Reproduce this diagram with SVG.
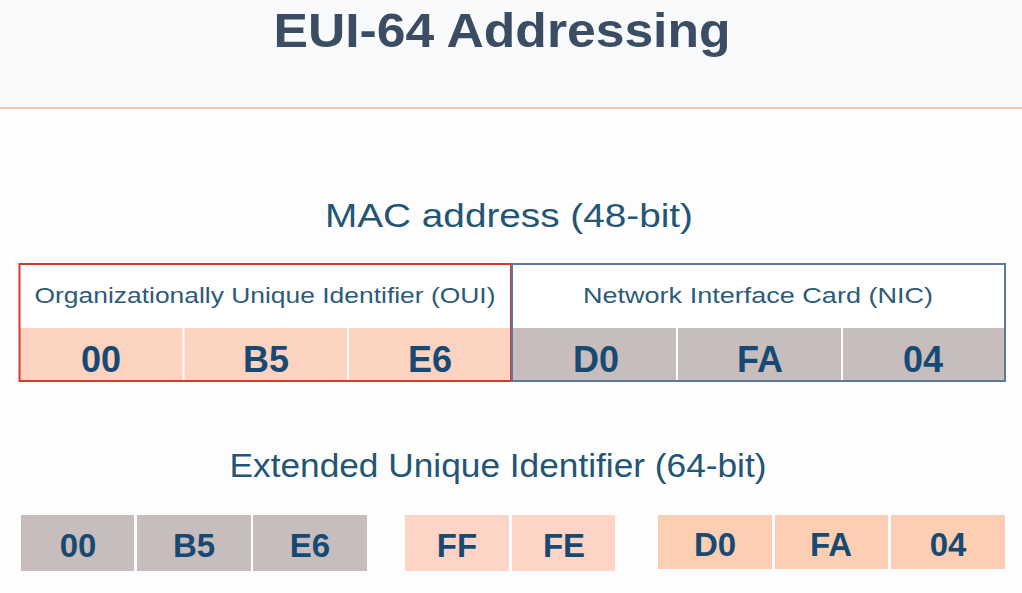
<svg xmlns="http://www.w3.org/2000/svg" width="1022" height="593" viewBox="0 0 1022 593">
  <style>
    .title { font-family: "Liberation Sans", Arial, sans-serif; font-weight: bold; font-size: 48px; fill: #3b4d63; }
    .caption { font-family: "Liberation Sans", Arial, sans-serif; font-size: 34px; fill: #235574; }
    .label { font-family: "Liberation Sans", Arial, sans-serif; font-size: 22.5px; fill: #2d5b78; }
    .byte { font-family: "Liberation Sans", Arial, sans-serif; font-weight: bold; font-size: 36px; fill: #174a72; text-anchor: middle; }
    .byte-sm { font-family: "Liberation Sans", Arial, sans-serif; font-weight: bold; font-size: 33px; fill: #174a72; text-anchor: middle; }
    .sep { stroke: #ffffff; stroke-width: 2; }
    .oui { fill: #fcd2c1; }
    .nic { fill: #c8bdbd; }
    .grey { fill: #c8bdbd; }
    .fill { fill: #fdd4c6; }
    .tail { fill: #fdcfb2; }
  </style>

  <!-- page background and header band -->
  <rect x="0" y="0" width="1022" height="593" fill="#fdfdfd"/>
  <rect x="0" y="0" width="1022" height="107" fill="#f9fafc"/>
  <line x1="0" y1="108" x2="1022" y2="108" stroke="#f1c4ac" stroke-width="2"/>
  <text class="title" x="502" y="47" text-anchor="middle" textLength="457" lengthAdjust="spacingAndGlyphs">EUI-64 Addressing</text>

  <!-- MAC address, 48 bits -->
  <text class="caption" x="509" y="227" text-anchor="middle" textLength="368" lengthAdjust="spacingAndGlyphs">MAC address (48-bit)</text>

  <g id="oui">
    <rect x="19" y="264" width="492" height="117" fill="#ffffff"/>
    <rect class="oui" x="19" y="328" width="492" height="53"/>
    <line class="sep" x1="183.5" y1="328" x2="183.5" y2="381"/>
    <line class="sep" x1="348" y1="328" x2="348" y2="381"/>
    <rect x="19.5" y="264" width="491.5" height="117" fill="none" stroke="#d63a2f" stroke-width="2"/>
    <text class="label" x="265" y="303" text-anchor="middle" textLength="461" lengthAdjust="spacingAndGlyphs">Organizationally Unique Identifier (OUI)</text>
    <text class="byte" x="101" y="372">00</text>
    <text class="byte" x="266" y="372">B5</text>
    <text class="byte" x="430" y="372">E6</text>
  </g>

  <g id="nic">
    <rect x="512" y="264" width="493" height="117" fill="#ffffff"/>
    <rect class="nic" x="512" y="328" width="493" height="53"/>
    <line class="sep" x1="677" y1="328" x2="677" y2="381"/>
    <line class="sep" x1="842" y1="328" x2="842" y2="381"/>
    <rect x="512" y="264" width="493" height="117" fill="none" stroke="#5a78a8" stroke-width="2"/>
    <text class="label" x="758" y="303" text-anchor="middle" textLength="350" lengthAdjust="spacingAndGlyphs">Network Interface Card (NIC)</text>
    <text class="byte" x="596" y="372">D0</text>
    <text class="byte" x="760" y="372">FA</text>
    <text class="byte" x="923" y="372">04</text>
  </g>

  <!-- Extended Unique Identifier, 64 bits -->
  <text class="caption" x="498" y="477" text-anchor="middle" textLength="537" lengthAdjust="spacingAndGlyphs">Extended Unique Identifier (64-bit)</text>

  <g id="eui-oui">
    <rect class="grey" x="21" y="515" width="113" height="56"/>
    <rect class="grey" x="137" y="515" width="114" height="56"/>
    <rect class="grey" x="253" y="515" width="114" height="56"/>
    <text class="byte-sm" x="78" y="557">00</text>
    <text class="byte-sm" x="194" y="557">B5</text>
    <text class="byte-sm" x="310" y="557">E6</text>
  </g>

  <g id="eui-fffe">
    <rect class="fill" x="405" y="515" width="104" height="56"/>
    <rect class="fill" x="512" y="515" width="103" height="56"/>
    <text class="byte-sm" x="457" y="557">FF</text>
    <text class="byte-sm" x="564" y="557">FE</text>
  </g>

  <g id="eui-nic">
    <rect class="tail" x="658" y="515" width="114" height="54"/>
    <rect class="tail" x="775" y="515" width="113" height="54"/>
    <rect class="tail" x="891" y="515" width="114" height="54"/>
    <text class="byte-sm" x="715" y="556">D0</text>
    <text class="byte-sm" x="831" y="556">FA</text>
    <text class="byte-sm" x="948" y="556">04</text>
  </g>
</svg>
